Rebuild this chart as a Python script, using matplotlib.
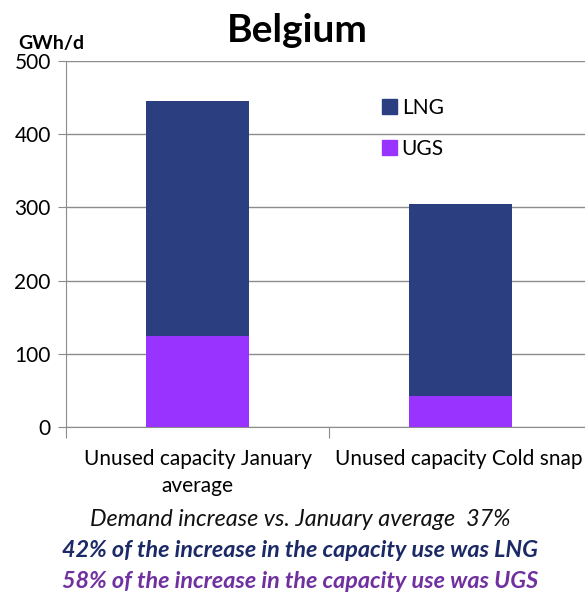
import matplotlib.pyplot as plt
from matplotlib.patches import Patch

plt.rcParams['font.family'] = ['Lato', 'DejaVu Sans']

categories = ["Unused capacity January\naverage", "Unused capacity Cold snap"]
ugs = [125, 42]
lng = [320, 262]
notes = [
    ("Demand increase vs. January average  37%", "#111111", "normal"),
    ("42% of the increase in the capacity use was LNG", "#1B2A66", "bold"),
    ("58% of the increase in the capacity use was UGS", "#7030A0", "bold"),
]

LNG_C = "#2B3F80"
UGS_C = "#9933FF"

fig = plt.figure(figsize=(5.85, 5.95), dpi=100)
ax = fig.add_axes([66 / 585, 1 - 427 / 595, (592 - 66) / 585, 366 / 595])

x = range(len(categories))
ax.bar(x, ugs, width=0.39, color=UGS_C, zorder=3)
ax.bar(x, lng, bottom=ugs, width=0.39, color=LNG_C, zorder=3)

ax.set_xlim(-0.5, 1.5)
ax.set_ylim(0, 500)
ax.set_yticks(range(0, 501, 100))
ax.yaxis.grid(True, color="#8c8c8c", linewidth=1.0, zorder=0)
ax.set_xticks([-0.5, 0.5, 1.5])
ax.set_xticklabels([])
ax.tick_params(axis="x", length=8, color="#8c8c8c")
ax.tick_params(axis="y", length=6, color="#8c8c8c", labelsize=15, pad=5)
for s in ["top", "right"]:
    ax.spines[s].set_visible(False)
for s in ["left", "bottom"]:
    ax.spines[s].set_color("#8c8c8c")
for i, lab in enumerate(categories):
    ax.text(i - 0.005 * i, -30, lab, ha="center", va="top", fontsize=15,
            linespacing=1.45)

ax.legend(handles=[Patch(color=LNG_C, label="LNG"), Patch(color=UGS_C, label="UGS")],
          loc="upper left", bbox_to_anchor=(0.565, 0.95), frameon=False,
          fontsize=15, labelspacing=1.0, handlelength=0.7, handleheight=0.7,
          handletextpad=0.25)

fig.text(297 / 585, 1 - 31 / 595, "Belgium", ha="center", va="center",
         fontsize=28, fontweight="bold")
fig.text(18 / 585, 1 - 44 / 595, "GWh/d", ha="left", va="center",
         fontsize=14, fontweight="bold")

for k, (txt, col, wt) in enumerate(notes):
    fig.text(300 / 585, 1 - (520 + 30.5 * k) / 595, txt, ha="center", va="center",
             fontsize=16.8, style="italic", fontweight=wt, color=col)

fig.savefig("out.png", dpi=100)
